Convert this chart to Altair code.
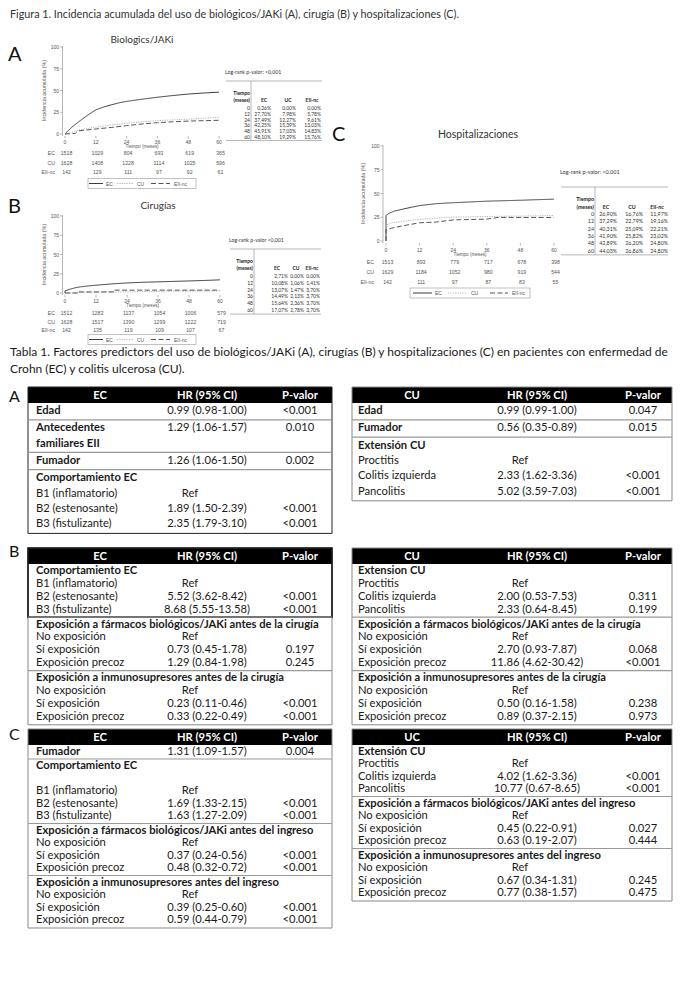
import altair as alt
import pandas as pd

# ---------------- data ----------------
GROUPS = ["EC", "CU", "EII-nc"]
TIME_TICKS = [0, 12, 24, 36, 48, 60]
Y_TICKS = [0, 25, 50, 75, 100]

# Panel A: Biologics/JAKi (cumulative incidence, %)
A_EC_T = [0, 1, 2, 4, 6, 9, 12, 15, 18, 21, 24, 30, 36, 42, 48, 54, 60]
A_EC_V = [0.26, 3, 6, 11, 15.5, 22, 27.7, 31, 33.5, 35.8, 37.49, 40, 42.25, 44.2, 45.91, 47.1, 48.1]
A_CU_T = [0, 2, 4, 6, 9, 12, 18, 24, 30, 36, 42, 48, 54, 60]
A_CU_V = [0, 1.5, 3.5, 4.8, 6.5, 7.98, 10.3, 12.27, 14, 15.39, 16.2, 17.03, 18, 19.29]
A_NC_T = [0, 4, 5, 8, 12, 18, 24, 30, 36, 42, 48, 54, 60]
A_NC_V = [0, 0.7, 3.5, 4.5, 5.78, 7.5, 9.61, 11.5, 13.03, 14, 14.83, 15.3, 15.76]
# Panel B: Cirugías
B_EC_T = [0, 0, 2, 4, 6, 9, 12, 18, 24, 30, 36, 42, 48, 54, 60]
B_EC_V = [0, 2.71, 5, 6.8, 8, 9.2, 10.08, 11.8, 13.07, 13.9, 14.49, 15.1, 15.64, 16.3, 17.07]
B_CU_T = [0, 6, 12, 24, 36, 48, 60]
B_CU_V = [0, 0.6, 1.06, 1.47, 2.13, 2.36, 2.78]
B_NC_T = [0, 5, 5, 19, 19, 60]
B_NC_V = [0, 0, 1.41, 1.41, 3.7, 3.7]
# Panel C: Hospitalizaciones
C_EC_T = [0, 0, 1, 3, 6, 9, 12, 18, 24, 30, 36, 42, 48, 54, 60]
C_EC_V = [0, 26.9, 29, 31.5, 33.5, 35.5, 37.29, 39.3, 40.31, 41.1, 41.9, 42.4, 42.89, 43.5, 44.03]
C_CU_T = [0, 0, 2, 6, 12, 18, 24, 36, 48, 60]
C_CU_V = [0, 16.76, 19, 20.8, 22.79, 24, 25.09, 25.82, 26.2, 26.86]
C_NC_T = [0, 0, 2, 6, 12, 18, 24, 36, 40, 60]
C_NC_V = [0, 11.97, 13.5, 16, 19.16, 20, 22.21, 23.02, 24.8, 24.8]

# numbers at risk
A_RISK = {"EC": [1518, 1029, 804, 693, 619, 365], "CU": [1628, 1408, 1228, 1114, 1025, 596], "EII-nc": [142, 129, 111, 97, 92, 61]}
B_RISK = {"EC": [1512, 1283, 1137, 1054, 1006, 579], "CU": [1628, 1517, 1390, 1299, 1222, 719], "EII-nc": [142, 135, 119, 109, 107, 67]}
C_RISK = {"EC": [1513, 893, 779, 717, 678, 398], "CU": [1629, 1184, 1052, 980, 919, 544], "EII-nc": [142, 111, 97, 87, 83, 55]}

# side tables (%)
A_TAB_COLS = ["EC", "UC", "EII-nc"]
A_TAB = [[0.26, 27.70, 37.49, 42.25, 45.91, 48.10], [0.00, 7.98, 12.27, 15.39, 17.03, 19.29], [0.00, 5.78, 9.61, 13.03, 14.83, 15.76]]
B_TAB_COLS = ["EC", "CU", "EII-nc"]
B_TAB = [[2.71, 10.08, 13.07, 14.49, 15.64, 17.07], [0.00, 1.06, 1.47, 2.13, 2.36, 2.78], [0.00, 1.41, 3.70, 3.70, 3.70, 3.70]]
C_TAB_COLS = ["EC", "CU", "EII-nc"]
C_TAB = [[26.90, 37.29, 40.31, 41.90, 42.89, 44.03], [16.76, 22.79, 25.09, 25.82, 26.20, 26.86], [11.97, 19.16, 22.21, 23.02, 24.80, 24.80]]

SEP = None
BL = ("", "", "", 0)
TA_EC = [("Edad", "0.99 (0.98-1.00)", "<0.001", 1), SEP,
         ("Antecedentes", "1.29 (1.06-1.57)", "0.010", 1), ("familiares EII", "", "", 1), SEP,
         ("Fumador", "1.26 (1.06-1.50)", "0.002", 1), SEP,
         ("Comportamiento EC", "", "", 1), ("B1 (inflamatorio)", "Ref", "", 0),
         ("B2 (estenosante)", "1.89 (1.50-2.39)", "<0.001", 0), ("B3 (fistulizante)", "2.35 (1.79-3.10)", "<0.001", 0)]
TA_CU = [("Edad", "0.99 (0.99-1.00)", "0.047", 1), SEP,
         ("Fumador", "0.56 (0.35-0.89)", "0.015", 1), SEP,
         ("Extensión CU", "", "", 1), ("Proctitis", "Ref", "", 0),
         ("Colitis izquierda", "2.33 (1.62-3.36)", "<0.001", 0), ("Pancolitis", "5.02 (3.59-7.03)", "<0.001", 0)]
TB_EC = [("Comportamiento EC", "", "", 1), ("B1 (inflamatorio)", "Ref", "", 0),
         ("B2 (estenosante)", "5.52 (3.62-8.42)", "<0.001", 0), ("B3 (fistulizante)", "8.68 (5.55-13.58)", "<0.001", 0), SEP,
         ("Exposición a fármacos biológicos/JAKi antes de la cirugía", "", "", 1), ("No exposición", "Ref", "", 0),
         ("Sí exposición", "0.73 (0.45-1.78)", "0.197", 0), ("Exposición precoz", "1.29 (0.84-1.98)", "0.245", 0), SEP,
         ("Exposición a inmunosupresores antes de la cirugía", "", "", 1), ("No exposición", "Ref", "", 0),
         ("Sí exposición", "0.23 (0.11-0.46)", "<0.001", 0), ("Exposición precoz", "0.33 (0.22-0.49)", "<0.001", 0)]
TB_CU = [("Extension CU", "", "", 1), ("Proctitis", "Ref", "", 0),
         ("Colitis izquierda", "2.00 (0.53-7.53)", "0.311", 0), ("Pancolitis", "2.33 (0.64-8.45)", "0.199", 0), SEP,
         ("Exposición a fármacos biológicos/JAKi antes de la cirugía", "", "", 1), ("No exposición", "Ref", "", 0),
         ("Sí exposición", "2.70 (0.93-7.87)", "0.068", 0), ("Exposición precoz", "11.86 (4.62-30.42)", "<0.001", 0), SEP,
         ("Exposición a inmunosupresores antes de la cirugía", "", "", 1), ("No exposición", "Ref", "", 0),
         ("Sí exposición", "0.50 (0.16-1.58)", "0.238", 0), ("Exposición precoz", "0.89 (0.37-2.15)", "0.973", 0)]
TC_EC = [("Fumador", "1.31 (1.09-1.57)", "0.004", 1), SEP,
         ("Comportamiento EC", "", "", 1), BL, ("B1 (inflamatorio)", "Ref", "", 0),
         ("B2 (estenosante)", "1.69 (1.33-2.15)", "<0.001", 0), ("B3 (fistulizante)", "1.63 (1.27-2.09)", "<0.001", 0), SEP,
         ("Exposición a fármacos biológicos/JAKi antes del ingreso", "", "", 1), ("No exposición", "Ref", "", 0),
         ("Sí exposición", "0.37 (0.24-0.56)", "<0.001", 0), ("Exposición precoz", "0.48 (0.32-0.72)", "<0.001", 0), SEP,
         ("Exposición a inmunosupresores antes del ingreso", "", "", 1), ("No exposición", "Ref", "", 0),
         ("Sí exposición", "0.39 (0.25-0.60)", "<0.001", 0), ("Exposición precoz", "0.59 (0.44-0.79)", "<0.001", 0)]
TC_UC = [("Extensión CU", "", "", 1), ("Proctitis", "Ref", "", 0),
         ("Colitis izquierda", "4.02 (1.62-3.36)", "<0.001", 0), ("Pancolitis", "10.77 (0.67-8.65)", "<0.001", 0), SEP,
         ("Exposición a fármacos biológicos/JAKi antes del ingreso", "", "", 1), ("No exposición", "Ref", "", 0),
         ("Sí exposición", "0.45 (0.22-0.91)", "0.027", 0), ("Exposición precoz", "0.63 (0.19-2.07)", "0.444", 0), SEP,
         ("Exposición a inmunosupresores antes del ingreso", "", "", 1), ("No exposición", "Ref", "", 0),
         ("Sí exposición", "0.67 (0.34-1.31)", "0.245", 0), ("Exposición precoz", "0.77 (0.38-1.57)", "0.475", 0)]

FIG_TITLE = "Figura 1. Incidencia acumulada del uso de biológicos/JAKi (A), cirugía (B) y hospitalizaciones (C)."
TAB_TITLE_1 = "Tabla 1. Factores predictors del uso de biológicos/JAKi (A), cirugías (B) y hospitalizaciones (C) en pacientes con enfermedad de"
TAB_TITLE_2 = "Crohn (EC) y colitis ulcerosa (CU)."

# ---------------- styles / layout helpers ----------------
BODY = "Lato"
SMALL = "Liberation Sans"
OFF = 8
FS = 11.2
LINE_COLORS = ["#3c3c3c", "#b4b4b4", "#555555"]
LINE_DASHES = [[1, 0], [1.2, 1.2], [5, 2.5]]
DASHNAME = {"EC": "solid", "CU": "dot", "EII-nc": "dash"}
COLOR = dict(zip(GROUPS, LINE_COLORS))
DASH = {"solid": [1, 0], "dot": [1.2, 1.2], "dash": [5, 2.5]}

texts, rules, rects = [], [], []


def T(x, y, s, size=FS, color="#1a1a1a", weight="normal", align="left", font=BODY, angle=0):
    texts.append(dict(x=x - OFF, y=y - OFF, s=s, size=size, color=color, weight=weight,
                      align=align, font=font, angle=angle))


def R(x1, y1, x2, y2, color="#999", w=1.0, dash="solid"):
    rules.append(dict(x=x1 - OFF, y=y1 - OFF, x2=x2 - OFF, y2=y2 - OFF, color=color, w=w, dash=dash))


def BOX(x1, y1, x2, y2, fill="transparent", stroke="transparent", sw=0.0):
    rects.append(dict(x=x1 - OFF, y=y1 - OFF, x2=x2 - OFF, y2=y2 - OFF, fill=fill, stroke=stroke, sw=sw))


km_layers = []


def km_panel(curves, risk, x0, x1, ytop, ybot, axis_x, risk_ys, risk_label_x, ytitle_x, xlab_y, xtitle_y):
    xs = alt.Scale(domain=[0, 60], range=[x0 - OFF, x1 - OFF], nice=False, zero=False)
    ys = alt.Scale(domain=[0, 100], range=[ybot - OFF, ytop - OFF], nice=False, zero=False)
    rows = []
    for g, (ts, vs) in curves.items():
        for i, (t, v) in enumerate(zip(ts, vs)):
            rows.append(dict(grp=g, t=t, v=v, i=i))
    df = pd.DataFrame(rows)
    km_layers.append(alt.Chart(df).mark_line(strokeWidth=1.0).encode(
        x=alt.X("t:Q", scale=xs, axis=None),
        y=alt.Y("v:Q", scale=ys, axis=None),
        color=alt.Color("grp:N", scale=alt.Scale(domain=GROUPS, range=LINE_COLORS), legend=None),
        strokeDash=alt.StrokeDash("grp:N", scale=alt.Scale(domain=GROUPS, range=LINE_DASHES), legend=None),
        order="i:Q"))
    tdf = pd.DataFrame({"t": TIME_TICKS, "lab": [str(t) for t in TIME_TICKS]})
    km_layers.append(alt.Chart(tdf).mark_rule(color="#888", strokeWidth=0.6).encode(
        x=alt.X("t:Q", scale=xs, axis=None), y=alt.value(ybot + 2 - OFF), y2=alt.value(ybot + 4.5 - OFF)))
    km_layers.append(alt.Chart(tdf).mark_text(font=SMALL, fontSize=5, color="#555", baseline="middle").encode(
        x=alt.X("t:Q", scale=xs, axis=None), y=alt.value(xlab_y - OFF), text="lab:N"))
    vdf = pd.DataFrame({"v": Y_TICKS, "lab": [str(v) for v in Y_TICKS]})
    km_layers.append(alt.Chart(vdf).mark_rule(color="#888", strokeWidth=0.6).encode(
        y=alt.Y("v:Q", scale=ys, axis=None), x=alt.value(axis_x - 2.5 - OFF), x2=alt.value(axis_x - OFF)))
    km_layers.append(alt.Chart(vdf).mark_text(font=SMALL, fontSize=5, color="#555", baseline="middle",
                                             align="right").encode(
        y=alt.Y("v:Q", scale=ys, axis=None), x=alt.value(axis_x - 3.5 - OFF), text="lab:N"))
    R(axis_x, ytop - 1, axis_x, ybot + 2, color="#888", w=0.6)
    T(ytitle_x, (ytop + ybot) / 2, "Incidencia acumulada (%)", size=5.3, color="#555", font=SMALL,
      align="center", angle=270)
    T((x0 + x1) / 2, xtitle_y, "Tiempo (meses)", size=4.6, color="#555", font=SMALL, align="center")
    rdf = pd.DataFrame([dict(grp=g, t=t, n=str(n)) for g in GROUPS for t, n in zip(TIME_TICKS, risk[g])])
    yr = alt.Scale(domain=GROUPS, range=[risk_ys[0] - OFF, risk_ys[1] - OFF], padding=0)
    km_layers.append(alt.Chart(rdf).mark_text(font=SMALL, fontSize=5.2, color="#555", dx=1.5,
                                             baseline="middle").encode(
        x=alt.X("t:Q", scale=xs, axis=None), y=alt.Y("grp:N", scale=yr, axis=None), text="n:N"))
    ldf = pd.DataFrame({"grp": GROUPS})
    km_layers.append(alt.Chart(ldf).mark_text(font=SMALL, fontSize=5.2, color="#555", align="right",
                                             baseline="middle").encode(
        x=alt.value(risk_label_x - OFF), y=alt.Y("grp:N", scale=yr, axis=None), text="grp:N"))


def legend_box(x1, x2, y, items):
    BOX(x1, y - 5, x2, y + 5, stroke="#999", sw=0.6)
    for (a, b, lx, g) in items:
        R(a, y, b, y, color=COLOR[g], w=1.0, dash=DASHNAME[g])
        T(lx, y, g, size=5, font=SMALL, color="#555")


def fmt(v):
    return ("%.2f" % v).replace(".", ",") + "%"


def side_table(logrank, lr_y, x_left, x_vline, x_right, y_top, y_h1, y_h2, y_row0, dy, col_c, col_r, cols, vals, size):
    T(x_left - 1, lr_y, logrank, size=size + 0.2, color="#333")
    R(x_left, y_top, x_right, y_top, color="#888", w=0.6)
    T(x_vline - 1, y_h1, "Tiempo", size=size, color="#222", weight="bold", align="right")
    T(x_vline - 1, y_h2, "(meses)", size=size, color="#222", weight="bold", align="right")
    for c, name in zip(col_c, cols):
        T(c, y_h2, name, size=size, color="#222", weight="bold", align="center")
    for i, t in enumerate(TIME_TICKS):
        y = y_row0 + i * dy
        T(x_vline - 1, y, str(t), size=size, color="#333", align="right")
        for j, r in enumerate(col_r):
            T(r, y, fmt(vals[j][i]), size=size, color="#333", align="right")
    yb = y_row0 + 5 * dy + dy * 0.6
    R(x_left, yb, x_right, yb, color="#888", w=0.6)
    R(x_vline, y_top, x_vline, yb, color="#888", w=0.6)


def hr_table(x1, x2, ytop, head, head_c, label_x, hr_c, ref_c, p_c, rows, rh, border="#888", bw=1.0,
             first_box=False):
    hh = 16
    BOX(x1, ytop, x2, ytop + hh, fill="#000")
    for s, c in zip(head, head_c):
        T(c, ytop + hh / 2 + 0.5, s, color="#fff", weight="bold", align="center")
    cur = ytop + hh + rh / 2 + 0.5
    first_sep_y = None
    for r in rows:
        if r is None:
            ly = cur - rh / 2 + 1
            R(x1, ly, x2, ly, color="#9a9a9a", w=1.2)
            if first_sep_y is None:
                first_sep_y = ly
            cur += 2
            continue
        lab, hr, p, b = r
        T(label_x, cur, lab, weight="bold" if b else "normal")
        if hr == "Ref":
            T(ref_c, cur, hr, align="center")
        elif hr:
            T(hr_c, cur, hr, align="center")
        if p:
            T(p_c, cur, p, align="center")
        cur += rh
    yb = cur - rh / 2 + 1.5
    BOX(x1, ytop, x2, yb, stroke=border, sw=bw)
    if first_box and first_sep_y is not None:
        BOX(x1, ytop, x2, first_sep_y, stroke="#111", sw=1.6)


# ---------------- figure 1 ----------------
T(10, 15, FIG_TITLE, size=10.8, color="#333")

# Panel A
T(8, 55, "A", size=20, color="#111")
T(142, 40, "Biologics/JAKi", size=10, color="#333", align="center")
km_panel({"EC": (A_EC_T, A_EC_V), "CU": (A_CU_T, A_CU_V), "EII-nc": (A_NC_T, A_NC_V)}, A_RISK,
         65, 219, 47, 134, 62.5, (153, 172), 55, 44, 142, 147)
legend_box(88, 196, 183.5, [(89, 103, 106, "EC"), (117, 133, 137, "CU"), (151, 170, 174, "EII-nc")])
side_table("Log-rank p-valor: <0,001", 72, 226, 251, 322, 81, 93, 100, 108, 5.8,
           [264, 288, 312], [271, 296, 321], A_TAB_COLS, A_TAB, 5)

# Panel B
T(8, 207, "B", size=20, color="#111")
T(158, 206, "Cirugías", size=10, color="#333", align="center")
km_panel({"EC": (B_EC_T, B_EC_V), "CU": (B_CU_T, B_CU_V), "EII-nc": (B_NC_T, B_NC_V)}, B_RISK,
         65, 220, 216, 293, 62.5, (313, 330), 55, 44, 300.5, 305.5)
legend_box(88, 196, 339.5, [(89, 103, 106, "EC"), (117, 133, 137, "CU"), (151, 170, 174, "EII-nc")])
side_table("Log-rank p-valor <0,001", 240, 230, 254, 321, 249, 261, 268, 276, 6.8,
           [277, 296, 312], [288, 304, 320], B_TAB_COLS, B_TAB, 5)

# Panel C
T(332, 135, "C", size=20, color="#111")
T(478, 135, "Hospitalizaciones", size=10.5, color="#333", align="center")
km_panel({"EC": (C_EC_T, C_EC_V), "CU": (C_CU_T, C_CU_V), "EII-nc": (C_NC_T, C_NC_V)}, C_RISK,
         386, 554, 146, 241, 383, (262, 281.5), 374, 363, 249.5, 255)
legend_box(410, 530, 293, [(413, 432, 435, "EC"), (448, 467, 471, "CU"), (490, 508, 512, "EII-nc")])
side_table("Log-rank p-valor: <0.001", 172, 561, 595, 668, 187, 199, 206.5, 214, 7.3,
           [606, 632, 657], [617, 643, 668], C_TAB_COLS, C_TAB, 5.3)

# ---------------- tabla 1 ----------------
T(10, 352, TAB_TITLE_1, size=12, color="#1a1a1a")
T(10, 369, TAB_TITLE_2, size=12, color="#1a1a1a")

EC_HEAD_C = [100, 207, 300]
CU_HEAD_C = [412, 537, 643]

T(9, 397, "A", size=16, color="#111")
hr_table(28, 332, 387, ["EC", "HR (95% CI)", "P-valor"], EC_HEAD_C, 36, 207, 190, 300, TA_EC, 15.3,
         border="#222", bw=1.0)
hr_table(352, 672, 387, ["CU", "HR (95% CI)", "P-valor"], CU_HEAD_C, 358, 537, 520, 643, TA_CU, 15.3)

T(9, 552, "B", size=16, color="#111")
hr_table(28, 332, 548, ["EC", "HR (95% CI)", "P-valor"], EC_HEAD_C, 36, 207, 190, 300, TB_EC, 12.9,
         first_box=True)
hr_table(352, 672, 548, ["CU", "HR (95% CI)", "P-valor"], CU_HEAD_C, 358, 537, 520, 643, TB_CU, 12.9)

T(9, 735, "C", size=16, color="#111")
hr_table(28, 332, 729, ["EC", "HR (95% CI)", "P-valor"], EC_HEAD_C, 36, 207, 190, 300, TC_EC, 12.5)
hr_table(352, 672, 729, ["UC", "HR (95% CI)", "P-valor"], CU_HEAD_C, 358, 537, 520, 643, TC_UC, 12.5)

# ---------------- build layers ----------------
layers = []
rdf = pd.DataFrame(rects)
for (fill, stroke, sw), g in rdf.groupby(["fill", "stroke", "sw"], sort=False):
    layers.append(alt.Chart(g).mark_rect(fill=str(fill), stroke=str(stroke), strokeWidth=float(sw)).encode(
        x=alt.X("x:Q", scale=None, axis=None), x2="x2:Q",
        y=alt.Y("y:Q", scale=None, axis=None), y2="y2:Q"))
ldf = pd.DataFrame(rules)
for dash, g in ldf.groupby("dash", sort=False):
    layers.append(alt.Chart(g).mark_rule(strokeDash=DASH[dash]).encode(
        x=alt.X("x:Q", scale=None, axis=None), x2="x2:Q",
        y=alt.Y("y:Q", scale=None, axis=None), y2="y2:Q",
        color=alt.Color("color:N", scale=None, legend=None),
        size=alt.Size("w:Q", scale=None, legend=None)))
layers.extend(km_layers)
tdf = pd.DataFrame(texts)
for (w, a, f, ang), g in tdf.groupby(["weight", "align", "font", "angle"], sort=False):
    layers.append(alt.Chart(g).mark_text(fontWeight=str(w), align=str(a), font=str(f), angle=int(ang),
                                         baseline="middle").encode(
        x=alt.X("x:Q", scale=None, axis=None),
        y=alt.Y("y:Q", scale=None, axis=None),
        text="s:N",
        size=alt.Size("size:Q", scale=None, legend=None),
        color=alt.Color("color:N", scale=None, legend=None)))

chart = alt.layer(*layers).resolve_scale(
    x="independent", y="independent", color="independent", strokeDash="independent", size="independent"
).properties(
    width=666, height=970, padding=0, autosize=alt.AutoSizeParams(type="none")
).configure_view(strokeWidth=0)

chart.save("out.html", embed_options={"renderer": "svg", "actions": False})
